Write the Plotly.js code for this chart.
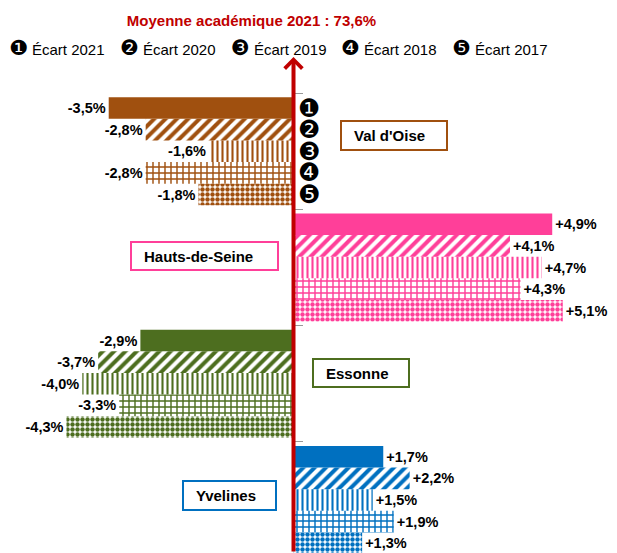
<!DOCTYPE html>
<html>
<head>
<meta charset="utf-8">
<script src="https://cdn.plot.ly/plotly-3.0.1.min.js"></script>
<style>html,body{margin:0;padding:0;background:#fff;}</style>
</head>
<body>
<div id="chart" style="width:617px;height:553px;"></div>
<script>
// ---- Data ----
const departements = ["Val d'Oise", 'Hauts-de-Seine', 'Essonne', 'Yvelines'];
const seriesNames = ['Écart 2021', 'Écart 2020', 'Écart 2019', 'Écart 2018', 'Écart 2017'];
const seriesMarks = ['❶', '❷', '❸', '❹', '❺'];
const ecart2021 = [-3.5, 4.9, -2.9, 1.7];
const ecart2020 = [-2.8, 4.1, -3.7, 2.2];
const ecart2019 = [-1.6, 4.7, -4.0, 1.5];
const ecart2018 = [-2.8, 4.3, -3.3, 1.9];
const ecart2017 = [-1.8, 5.1, -4.3, 1.3];
const titleText = 'Moyenne académique 2021 : 73,6%';

// ---- Styles ----
const deptColors = ['#A0500F', '#FF3F99', '#4D6E1F', '#0070C0'];
const patterns = [
  {shape: '', size: 8, solidity: 0.5},
  {shape: '/', size: 8, solidity: 0.5},
  {shape: '|', size: 5, solidity: 0.42},
  {shape: '+', size: 6, solidity: 0.42},
  {shape: '.', size: 5, solidity: 0.62}
];
const allSeries = [ecart2021, ecart2020, ecart2019, ecart2018, ecart2017];

const W = 617, H = 553, MT = 92, MB = 0;
const PH = H - MT - MB;
const px = v => v / W;
const py = v => (H - v) / PH;

function fmt(v) {
  return (v > 0 ? '+' : '-') + Math.abs(v).toFixed(1).replace('.', ',') + '%';
}

const traces = allSeries.map((vals, k) => ({
  type: 'bar',
  orientation: 'h',
  name: seriesNames[k],
  y: departements,
  x: vals,
  text: vals.map(fmt),
  textposition: 'outside',
  constraintext: 'none',
  cliponaxis: false,
  textfont: {family: 'Liberation Sans, Arial, sans-serif', size: 14.5, color: '#000', weight: 'bold'},
  marker: {
    color: deptColors,
    line: {width: 0},
    pattern: {
      shape: patterns[k].shape,
      size: patterns[k].size,
      solidity: patterns[k].solidity,
      bgcolor: '#ffffff',
      fillmode: 'replace'
    }
  },
  hoverinfo: 'skip',
  showlegend: false
}));

const annotations = [];
const shapes = [];

// Legend line
seriesNames.forEach((n, k) => {
  annotations.push({
    xref: 'paper', yref: 'paper',
    x: px(7 + 110.8 * k), y: py(48),
    xanchor: 'left', yanchor: 'middle',
    showarrow: false,
    text: '<span style="font-family:DejaVu Sans;font-size:21px">' + seriesMarks[k] + '</span>\u00a0' + n,
    font: {family: 'Liberation Sans, Arial, sans-serif', size: 15, color: '#000'}
  });
});

// Numbers next to Val d'Oise bars
const barPx = 21.6;
seriesMarks.forEach((m, k) => {
  annotations.push({
    xref: 'x', yref: 'y',
    x: 0, y: departements[0],
    xshift: 15, yshift: -(k - 2) * barPx,
    xanchor: 'center', yanchor: 'middle',
    showarrow: false,
    text: m,
    font: {family: 'DejaVu Sans', size: 25, color: '#000'}
  });
});

// Department boxes
const boxes = [
  {x0: 341, x1: 447, y0: 121, y1: 150},
  {x0: 131, x1: 278, y0: 242, y1: 270},
  {x0: 313, x1: 409, y0: 359, y1: 387},
  {x0: 183, x1: 276, y0: 481, y1: 510}
];
departements.forEach((d, i) => {
  const b = boxes[i];
  shapes.push({
    type: 'rect', xref: 'paper', yref: 'paper',
    x0: px(b.x0), x1: px(b.x1), y0: py(b.y1), y1: py(b.y0),
    line: {color: deptColors[i], width: 2},
    fillcolor: '#ffffff', layer: 'above'
  });
  annotations.push({
    xref: 'paper', yref: 'paper',
    x: px(b.x0 + 11), y: py((b.y0 + b.y1) / 2),
    xanchor: 'left', yanchor: 'middle',
    showarrow: false,
    text: d,
    font: {family: 'Liberation Sans, Arial, sans-serif', size: 15, color: '#000', weight: 'bold'}
  });
});

// Red vertical arrow at zero
annotations.push({
  xref: 'x', yref: 'paper',
  x: 0, y: py(57),
  ax: 0, ay: H - 57,
  axref: 'pixel', ayref: 'pixel',
  showarrow: true,
  arrowhead: 4, arrowsize: 0.85, arrowwidth: 4,
  arrowcolor: '#C00000',
  text: ''
});

const layout = {
  width: W, height: H,
  margin: {l: 0, r: 0, t: MT, b: MB, pad: 0},
  paper_bgcolor: '#ffffff', plot_bgcolor: '#ffffff',
  barmode: 'group',
  bargap: 0.07,
  bargroupgap: 0,
  showlegend: false,
  title: {
    text: titleText,
    x: px(251.5), xanchor: 'center', xref: 'container',
    y: 1 - 21 / H, yanchor: 'middle', yref: 'container',
    font: {family: 'Liberation Sans, Arial, sans-serif', size: 15, color: '#C00000', weight: 'bold'}
  },
  xaxis: {
    range: [-5.559, 6.127],
    visible: false, fixedrange: true
  },
  yaxis: {
    type: 'category',
    range: [3.456, -0.51],
    anchor: 'free', position: px(293.5),
    showticklabels: false,
    ticks: 'inside', tickson: 'boundaries', ticklen: 8, tickwidth: 1, tickcolor: '#999',
    showgrid: false, zeroline: false, showline: false, fixedrange: true
  },
  annotations: annotations,
  shapes: shapes
};

Plotly.newPlot('chart', traces, layout, {displayModeBar: false, staticPlot: true});
</script>
</body>
</html>
